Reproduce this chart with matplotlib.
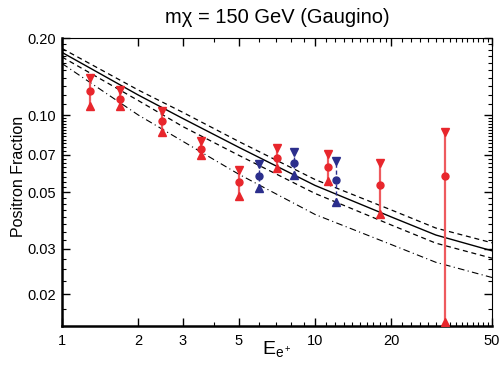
import numpy as np
import matplotlib
matplotlib.use("Agg")
import matplotlib.pyplot as plt
from matplotlib.ticker import FixedLocator, NullFormatter, FixedFormatter

plt.rcParams['font.family'] = ['Liberation Sans', 'DejaVu Sans']
plt.rcParams['mathtext.fontset'] = 'custom'
plt.rcParams['mathtext.rm'] = 'Liberation Sans'
plt.rcParams['mathtext.it'] = 'Liberation Sans'

# ---- data ----
curve_E = [1, 2, 3, 5, 10, 20, 30, 50]
solid_vals = [0.1757, 0.1198, 0.0970, 0.0748, 0.0531, 0.0400, 0.0340, 0.0295]
upper_dash = [0.1820, 0.1253, 0.1025, 0.0788, 0.0560, 0.0426, 0.0362, 0.0317]
lower_dash = [0.1686, 0.1140, 0.0902, 0.0696, 0.0494, 0.0372, 0.0316, 0.0276]
dashdot_vals = [0.1590, 0.1001, 0.0790, 0.0587, 0.0409, 0.0312, 0.0266, 0.0232]

red_E = [1.29, 1.70, 2.49, 3.53, 5.01, 7.10, 11.2, 18.07, 32.6]
red_center = [0.124, 0.116, 0.0945, 0.0739, 0.0549, 0.0681, 0.0627, 0.0533, 0.058]
red_hi = [0.140, 0.125, 0.104, 0.0792, 0.061, 0.0742, 0.0706, 0.0652, 0.0859]
red_lo = [0.1085, 0.1088, 0.0861, 0.0696, 0.0483, 0.0619, 0.0555, 0.0412, 0.01556]

blue_E = [6.03, 8.24, 12.07]
blue_center = [0.0578, 0.0648, 0.0559]
blue_hi = [0.0642, 0.0719, 0.0664]
blue_lo = [0.0518, 0.0581, 0.0458]

x_major = [1, 2, 3, 5, 10, 20, 50]
x_labels = ['1', '2', '3', '5', '10', '20', '50']
y_major = [0.02, 0.03, 0.05, 0.07, 0.10, 0.20]
y_labels = ['0.02', '0.03', '0.05', '0.07', '0.10', '0.20']

RED = '#e8262c'
RED_BAR = '#ee5a5e'
BLUE = '#2b2e8c'

fig = plt.figure(figsize=(4.99, 3.68), dpi=100)
ax = fig.add_axes([62/499, 1-326/368, 430/499, 288/368])
ax.set_xscale('log')
ax.set_yscale('log')

ax.plot(curve_E, solid_vals, color='black', lw=1.0, ls='-')
ax.plot(curve_E, upper_dash, color='black', lw=0.9, ls=(0, (4, 3)))
ax.plot(curve_E, lower_dash, color='black', lw=0.9, ls=(0, (4, 3)))
ax.plot(curve_E, dashdot_vals, color='black', lw=0.8, ls=(0, (6, 3, 1, 3)))

for e, c, h, l in zip(red_E, red_center, red_hi, red_lo):
    ax.plot([e, e], [l, h], color=RED_BAR, lw=1.6, zorder=3)
ax.plot(red_E, red_hi, 'v', color=RED, ms=5.5, zorder=4, mec=RED)
ax.plot(red_E, red_lo, '^', color=RED, ms=5.5, zorder=4, mec=RED)
ax.plot(red_E, red_center, 'o', color=RED, ms=5, zorder=4, mec=RED)

for e, c, h, l in zip(blue_E, blue_center, blue_hi, blue_lo):
    ax.plot([e, e], [l, h], color=BLUE, lw=1.0, ls=(0, (3, 2)), zorder=3)
ax.plot(blue_E, blue_hi, 'v', color=BLUE, ms=5.5, zorder=4)
ax.plot(blue_E, blue_lo, '^', color=BLUE, ms=5.5, zorder=4)
ax.plot(blue_E, blue_center, 'o', color=BLUE, ms=5, zorder=4)

ax.set_xlim(1, 50)
ax.set_ylim(0.015, 0.2)

ax.xaxis.set_major_locator(FixedLocator(x_major))
ax.xaxis.set_major_formatter(FixedFormatter(x_labels))
xminor = [4, 6, 7, 8, 9] + list(range(11, 20)) + list(range(22, 50, 2))
ax.xaxis.set_minor_locator(FixedLocator(xminor))
ax.xaxis.set_minor_formatter(NullFormatter())

ax.yaxis.set_major_locator(FixedLocator(y_major))
ax.yaxis.set_major_formatter(FixedFormatter(y_labels))
yminor = list(np.arange(0.015, 0.05, 0.0025)) + list(np.arange(0.0525, 0.1, 0.0025)) + list(np.arange(0.11, 0.2, 0.01))
yminor = [v for v in yminor if all(abs(v - m) > 1e-6 for m in y_major)]
ax.yaxis.set_minor_locator(FixedLocator(yminor))
ax.yaxis.set_minor_formatter(NullFormatter())

ax.tick_params(which='both', direction='in', top=True, right=True, labelsize=10.5)
ax.tick_params(which='major', length=6, width=1.0)
ax.tick_params(which='minor', length=3, width=0.8)
ax.tick_params(axis='x', pad=6)
ax.tick_params(axis='y', pad=4)

for s in ['left', 'bottom']:
    ax.spines[s].set_linewidth(1.8)
for s in ['top', 'right']:
    ax.spines[s].set_linewidth(0.8)

ax.set_title('mχ = 150 GeV (Gaugino)', fontsize=14.5, pad=11)
ax.set_ylabel('Positron Fraction', fontsize=11.5)
ax.yaxis.set_label_coords(-0.084, 0.52)
ax.set_xlabel(r'$\mathregular{E_{e^+}}$', fontsize=14)
ax.xaxis.set_label_coords(0.5, -0.045)

fig.savefig('out.png', dpi=100)
